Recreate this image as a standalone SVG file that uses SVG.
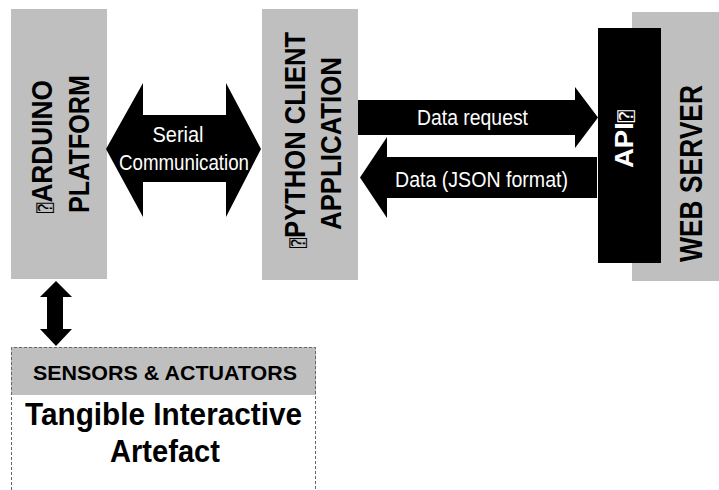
<svg xmlns="http://www.w3.org/2000/svg" width="719" height="490" viewBox="0 0 719 490">
<style>
.box{fill:#bfbfbf}
.arrow{fill:#000}
.t{font-family:"Liberation Sans",Arial,sans-serif}
.b{font-weight:bold;fill:#000}
.w{fill:#fff}
.ic{font-family:"DejaVu Sans Mono","DejaVu Sans",sans-serif;font-weight:normal}
</style>
<rect width="719" height="490" fill="#fff"/>
<g id="arduino">
<rect class="box" x="11" y="9" width="96" height="270"/>
<text class="t b" font-size="29" text-anchor="middle" transform="translate(52,146.5) rotate(-90)" textLength="133" lengthAdjust="spacingAndGlyphs"><tspan class="ic" font-size="19">⍰</tspan>ARDUINO</text>
<text class="t b" font-size="29" text-anchor="middle" transform="translate(89,144) rotate(-90)" textLength="138" lengthAdjust="spacingAndGlyphs">PLATFORM</text>
</g>
<g id="python">
<rect class="box" x="262" y="9" width="96" height="271"/>
<text class="t b" font-size="29" text-anchor="middle" transform="translate(305,140) rotate(-90)" textLength="216" lengthAdjust="spacingAndGlyphs"><tspan class="ic" font-size="19">⍰</tspan>PYTHON CLIENT</text>
<text class="t b" font-size="29" text-anchor="middle" transform="translate(341,143.5) rotate(-90)" textLength="173" lengthAdjust="spacingAndGlyphs">APPLICATION</text>
</g>
<g id="webserver">
<rect class="box" x="632" y="12" width="87" height="269"/>
<text class="t b" font-size="31" text-anchor="middle" transform="translate(702,173.5) rotate(-90)" textLength="177" lengthAdjust="spacingAndGlyphs">WEB SERVER</text>
</g>
<g id="api">
<rect x="598" y="28" width="63" height="235" fill="#000"/>
<text class="t b" font-size="26" text-anchor="middle" transform="translate(633,139) rotate(-90)" textLength="58" lengthAdjust="spacingAndGlyphs" style="fill:#fff">API<tspan class="ic" font-size="19">⍰</tspan></text>
</g>
<g id="sensors">
<rect x="11" y="347" width="305" height="48" fill="#bfbfbf"/>
<path d="M11.5,495 V347.5 H315.5 V495" fill="none" stroke="#666" stroke-width="1" stroke-dasharray="3,2"/>
<text class="t b" font-size="21" x="165" y="380" text-anchor="middle" textLength="264" lengthAdjust="spacingAndGlyphs">SENSORS &amp; ACTUATORS</text>
<text class="t b" font-size="31" x="163.5" y="425" text-anchor="middle" textLength="277" lengthAdjust="spacingAndGlyphs">Tangible Interactive</text>
<text class="t b" font-size="31" x="165" y="462" text-anchor="middle" textLength="110" lengthAdjust="spacingAndGlyphs">Artefact</text>
</g>
<g id="connectors">
<g id="serial">
<polygon class="arrow" points="106,149 143,83 143,115 226,115 226,83 261,149 226,217 226,182 143,182 143,217"/>
<text class="t" font-size="22" x="178" y="142" text-anchor="middle" textLength="51" lengthAdjust="spacingAndGlyphs" style="fill:#fff">Serial</text>
<text class="t" font-size="22" x="184" y="170" text-anchor="middle" textLength="130" lengthAdjust="spacingAndGlyphs" style="fill:#fff">Communication</text>
</g>
<g id="request">
<polygon class="arrow" points="358,100 575,100 575,87 598,117.5 575,148 575,135 358,135"/>
<text class="t" font-size="22" x="472.5" y="125" text-anchor="middle" textLength="111" lengthAdjust="spacingAndGlyphs" style="fill:#fff">Data request</text>
</g>
<g id="response">
<polygon class="arrow" points="597,157 387,157 387,137 360,177.5 387,218 387,198 597,198"/>
<text class="t" font-size="22" x="481.5" y="187" text-anchor="middle" textLength="173" lengthAdjust="spacingAndGlyphs" style="fill:#fff">Data (JSON format)</text>
</g>
<g id="vertical">
<polygon class="arrow" points="56,281 72,297 63,297 63,329 72,329 56,346 40,329 47,329 47,297 40,297"/>
</g>
</g>
</svg>
